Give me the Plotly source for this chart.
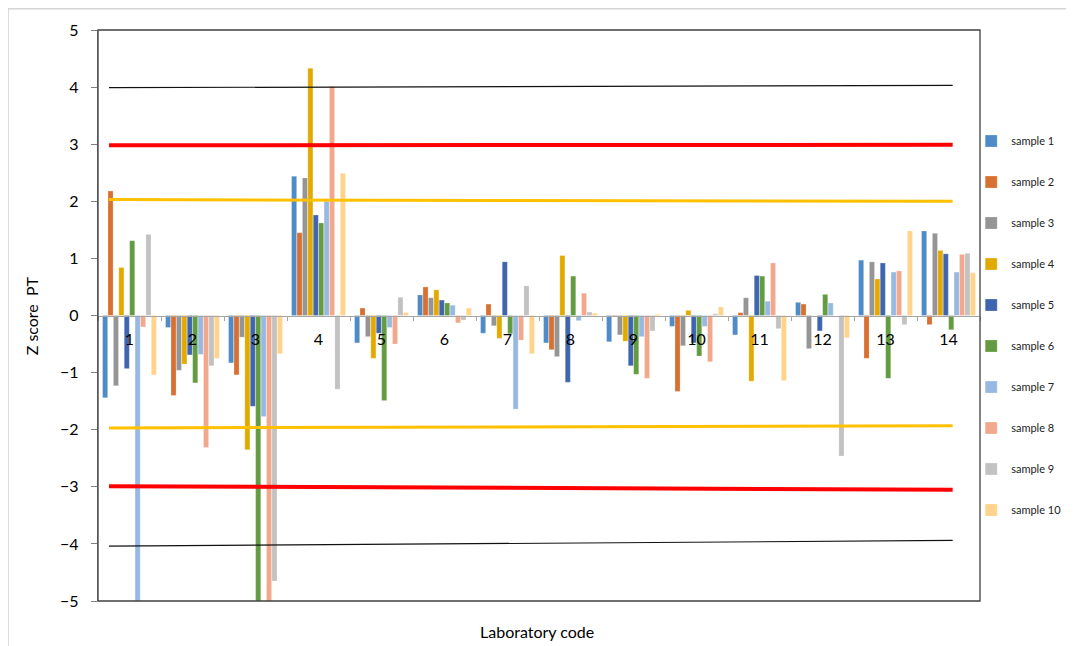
import plotly.graph_objects as go

labs = [str(i) for i in range(1, 15)]
sample_names = [f"sample {i}" for i in range(1, 11)]

# Z scores per sample, one value per laboratory code 1..14
s1 = [-1.44, -0.21, -0.83, 2.44, -0.48, 0.36, -0.31, -0.48, -0.46, -0.19, -0.34, 0.23, 0.97, 1.48]
s2 = [2.18, -1.40, -1.04, 1.45, 0.13, 0.50, 0.20, -0.60, -0.02, -1.33, 0.05, 0.20, -0.75, -0.16]
s3 = [-1.23, -0.96, -0.38, 2.41, -0.37, 0.31, -0.18, -0.72, -0.34, -0.53, 0.31, -0.58, 0.94, 1.44]
s4 = [0.84, -0.85, -2.35, 4.33, -0.75, 0.45, -0.40, 1.05, -0.45, 0.09, -1.15, 0.0, 0.64, 1.14]
s5 = [-0.93, -0.69, -1.59, 1.76, -0.31, 0.27, 0.94, -1.17, -0.88, -0.48, 0.70, -0.27, 0.92, 1.08]
s6 = [1.31, -1.18, -5.0, 1.62, -1.49, 0.22, -0.32, 0.69, -1.03, -0.71, 0.69, 0.37, -1.10, -0.25]
s7 = [-5.0, -0.68, -1.77, 2.00, -0.21, 0.18, -1.64, -0.09, -0.37, -0.19, 0.25, 0.22, 0.76, 0.76]
s8 = [-0.20, -2.31, -5.0, 4.01, -0.50, -0.13, -0.43, 0.39, -1.10, -0.81, 0.92, 0.0, 0.78, 1.07]
s9 = [1.42, -0.88, -4.65, -1.29, 0.32, -0.08, 0.52, 0.06, -0.27, 0.03, -0.23, -2.46, -0.16, 1.09]
s10 = [-1.04, -0.75, -0.67, 2.49, 0.05, 0.13, -0.67, 0.04, 0.02, 0.15, -1.14, -0.39, 1.48, 0.75]
series = [s1, s2, s3, s4, s5, s6, s7, s8, s9, s10]

colors = ["#4F8BC6", "#D87031", "#959595", "#E2AA00", "#3E65AD",
          "#639B41", "#97B9E1", "#F1A88C", "#C2C2C2", "#FFD38A"]

# limit lines (left / right end values, as drawn)
line_left = [3.99, 2.98, 2.03, -1.97, -2.99, -4.04]
line_right = [4.03, 2.99, 2.00, -1.93, -3.05, -3.94]
line_colors = ["#111111", "#FF0000", "#FFC000", "#FFC000", "#FF0000", "#111111"]
line_widths = [1.2, 4, 3, 3, 4, 1.2]

y_ticks = [-5, -4, -3, -2, -1, 0, 1, 2, 3, 4, 5]

FONT = "Lato, Carlito, Calibri, sans-serif"

fig = go.Figure()
for name, vals, col in zip(sample_names, series, colors):
    fig.add_trace(go.Bar(
        x=labs, y=vals, name=name, legendgroup=name,
        marker=dict(color=col, line=dict(color="rgba(255,255,255,0.6)", width=0.4)),
    ))

shapes = []
# outer chart border
shapes.append(dict(type="rect", xref="paper", yref="paper",
                   x0=-0.102, x1=1.12, y0=-0.2, y1=1.037,
                   line=dict(color="#BFBFBF", width=1), layer="below"))
# plot area frame
shapes.append(dict(type="rect", xref="paper", yref="paper",
                   x0=0, x1=1, y0=0, y1=1,
                   line=dict(color="#404040", width=1.3), layer="above"))
for yl, yr, c, w in zip(line_left, line_right, line_colors, line_widths):
    shapes.append(dict(type="line", xref="paper", yref="y",
                       x0=0.0125, x1=0.969, y0=yl, y1=yr,
                       line=dict(color=c, width=w), layer="above"))

fig.update_layout(
    width=1066, height=638,
    margin=dict(l=90, r=94, t=22, b=45, autoexpand=False),
    paper_bgcolor="white", plot_bgcolor="white",
    barmode="group", bargap=0.14, bargroupgap=0.06,
    font=dict(family=FONT, color="#000000"),
    showlegend=True,
    legend=dict(x=0.99, xanchor="left", y=0.831, yanchor="top",
                font=dict(size=11, family=FONT, color="#222"),
                tracegroupgap=22, itemwidth=30, bgcolor="rgba(0,0,0,0)"),
    shapes=shapes,
    annotations=[
        dict(text="Laboratory code", xref="paper", yref="paper",
             x=0.498, y=-0.054, xanchor="center", yanchor="middle",
             showarrow=False, font=dict(size=16, family=FONT, color="#000")),
        dict(text="Z score  PT", xref="paper", yref="paper",
             x=-0.075, y=0.5, xanchor="center", yanchor="middle", textangle=-90,
             showarrow=False, font=dict(size=16, family=FONT, color="#000")),
    ],
)

fig.update_xaxes(
    type="category", anchor="free", position=0.5, automargin=False,
    showline=True, linecolor="#A6A6A6", linewidth=1.3,
    ticks="outside", tickson="boundaries", ticklen=4, tickcolor="#A6A6A6",
    ticklabelstandoff=9,
    tickfont=dict(size=16, family=FONT, color="#000"),
    showgrid=False, zeroline=False, layer="above traces",
)
fig.update_yaxes(
    range=[-5, 5], tickvals=y_ticks, showgrid=False, zeroline=False,
    automargin=False,
    showline=True, linecolor="#808080", linewidth=1.3,
    ticks="outside", ticklen=6, tickcolor="#808080",
    ticklabelstandoff=9,
    tickfont=dict(size=16, family=FONT, color="#000"),
)

fig.write_html("out.html")
